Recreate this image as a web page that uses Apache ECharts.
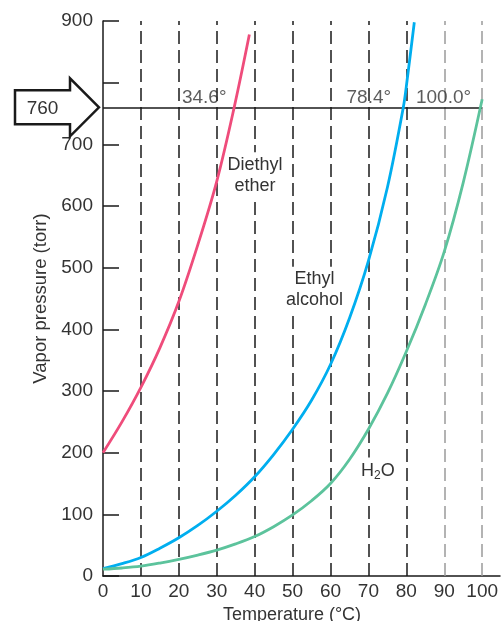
<!DOCTYPE html>
<html><head><meta charset="utf-8">
<script src="https://cdn.jsdelivr.net/npm/echarts@6/dist/echarts.min.js"></script>
<style>html,body{margin:0;padding:0;background:#fff}#c{width:501px;height:621px}</style>
</head><body><div id="c"></div>
<script>
// ---- data ----
const xTickValues = [0,10,20,30,40,50,60,70,80,90,100];
const yTickValues = [0,100,200,300,400,500,600,700,800,900];
const hiddenYLabels = [800];

const etherX = [0, 5, 10, 15, 20, 25, 30, 34.6, 38.6];
const etherY = [200, 250, 306, 370, 445, 537, 640, 760, 878];

const alcoholX = [0, 5, 10, 15, 20, 25, 30, 35, 40, 45, 50, 55, 60, 65, 70, 75, 79.2, 80.2, 82.1];
const alcoholY = [12, 20, 30, 45, 62, 82, 105, 131, 161, 197, 238, 285, 343, 418, 511, 630, 760, 804, 898];

const waterX = [0, 5, 10, 15, 20, 25, 30, 35, 40, 45, 50, 55, 60, 65, 70, 75, 80, 85, 90, 95, 100];
const waterY = [11, 13, 16, 21, 27, 34, 42, 52, 64, 80, 99, 122, 150, 189, 238, 296, 364, 440, 526, 638, 773];

const atmPressure = 760;
const boilingLabels = ['34.6°', '78.4°', '100.0°'];
const boilingLabelX = [26.7, 70.1, 89.8];
const boilingLabelY = [776, 776, 776];

const guideDark = [10, 20, 30, 40, 50, 60, 70, 80];
const guideLight = [90, 100];

const curveNames = ['Diethyl\nether', 'Ethyl\nalcohol', '{a|H}{b|2}{a|O}'];
const curveLabelX = [40.1, 55.8, 72.5];
const curveLabelY = [650, 464, 171];

// ---- chart ----
const zip = (xs, ys) => xs.map((x, i) => [x, ys[i]]);
const TXT = '#333333';
const FONT = 'Liberation Sans';
const chart = echarts.init(document.getElementById('c'), null, {renderer: 'canvas'});

const curve = (name, xs, ys, color) => ({
  type: 'line', name, data: zip(xs, ys), smooth: 0.35, showSymbol: false,
  lineStyle: {color, width: 2.8}, silent: true, z: 3
});

const option = {
  animation: false,
  backgroundColor: '#ffffff',
  textStyle: {fontFamily: FONT},
  grid: {left: 103, top: 21, right: 1, bottom: 45, containLabel: false, outerBoundsMode: 'none'},
  xAxis: {
    type: 'value', min: 0, max: 104.7, interval: 10,
    name: 'Temperature (°C)', nameLocation: 'middle', nameGap: 27,
    nameTextStyle: {fontSize: 18, color: TXT, fontFamily: FONT, padding: [0, 19, 0, 0]},
    axisLine: {show: true, lineStyle: {color: '#1a1a1a', width: 1.5}},
    axisTick: {show: false},
    splitLine: {show: false},
    axisLabel: {
      margin: 6, fontSize: 19, color: TXT, fontFamily: FONT,
      showMaxLabel: true,
      formatter: v => (xTickValues.indexOf(Math.round(v * 1000) / 1000) >= 0 ? String(v) : '')
    }
  },
  yAxis: {
    type: 'value', min: 0, max: 900, interval: 100,
    name: 'Vapor pressure (torr)', nameLocation: 'middle', nameGap: 46,
    nameTextStyle: {fontSize: 18.5, color: TXT, fontFamily: FONT},
    axisLine: {show: true, lineStyle: {color: '#1a1a1a', width: 1.5}},
    axisTick: {show: true, inside: true, length: 16, lineStyle: {color: '#1a1a1a', width: 1.5}},
    splitLine: {show: false},
    axisLabel: {
      margin: 10, fontSize: 19, color: TXT, fontFamily: FONT,
      formatter: v => (yTickValues.indexOf(v) >= 0 && hiddenYLabels.indexOf(v) < 0 ? String(v) : '')
    }
  },
  series: [
    {
      type: 'line', name: 'guides', data: [], silent: true, z: 1,
      markLine: {
        silent: true, z: 1, symbol: ['none', 'none'], label: {show: false},
        data: guideDark.map(v => ({xAxis: v, lineStyle: {color: '#1a1a1a', width: 1.5, type: [13, 6]}}))
          .concat(guideLight.map(v => ({xAxis: v, lineStyle: {color: '#9a9a9a', width: 1.5, type: [13, 6]}})))
          .concat([[{coord: [0, atmPressure], lineStyle: {color: '#1a1a1a', width: 1.5, type: 'solid'}},
                    {coord: [100, atmPressure]}]])
      }
    },
    curve('Diethyl ether', etherX, etherY, '#ef4c7b'),
    curve('Ethyl alcohol', alcoholX, alcoholY, '#00aeef'),
    curve('H2O', waterX, waterY, '#5cc39c'),
    {
      type: 'scatter', name: 'boilingLabels', silent: true, symbolSize: 1, z: 10,
      itemStyle: {color: 'rgba(0,0,0,0)'},
      data: boilingLabels.map((t, i) => [boilingLabelX[i], boilingLabelY[i], t]),
      label: {show: true, position: 'inside', formatter: p => p.data[2],
              fontSize: 19, color: TXT, fontFamily: FONT}
    }
  ]
};
chart.setOption(option);

// annotations positioned through the axes
const p = chart.convertToPixel({gridIndex: 0}, [0, atmPressure]);
const ax = p[0], ay = p[1];
const graphics = [
  {type: 'polygon', silent: true, z: 100,
   shape: {points: [[ax - 4, ay], [ax - 33, ay - 29], [ax - 33, ay - 17], [ax - 88, ay - 17],
                    [ax - 88, ay + 17], [ax - 33, ay + 17], [ax - 33, ay + 29]]},
   style: {fill: '#ffffff', stroke: '#1a1a1a', lineWidth: 2.5, lineJoin: 'miter'}},
  {type: 'text', silent: true, z: 101, x: ax - 60.5, y: ay + 1,
   style: {text: String(atmPressure), fontSize: 19, fontFamily: FONT, fill: TXT,
           align: 'center', verticalAlign: 'middle'}}
];
curveNames.forEach((t, i) => {
  const q = chart.convertToPixel({gridIndex: 0}, [curveLabelX[i], curveLabelY[i]]);
  graphics.push({
    type: 'text', silent: true, z: 100, x: q[0], y: q[1],
    style: {
      text: t, fontSize: 18, lineHeight: 21, fontFamily: FONT, fill: TXT,
      align: 'center', verticalAlign: 'middle',
      backgroundColor: '#ffffff', padding: [2, 1, 2, 1],
      rich: {
        a: {fontSize: 18, lineHeight: 22, fill: TXT, fontFamily: FONT},
        b: {fontSize: 12, lineHeight: 12, fill: TXT, fontFamily: FONT, verticalAlign: 'bottom'}
      }
    }
  });
});
chart.setOption({graphic: graphics});
</script></body></html>
